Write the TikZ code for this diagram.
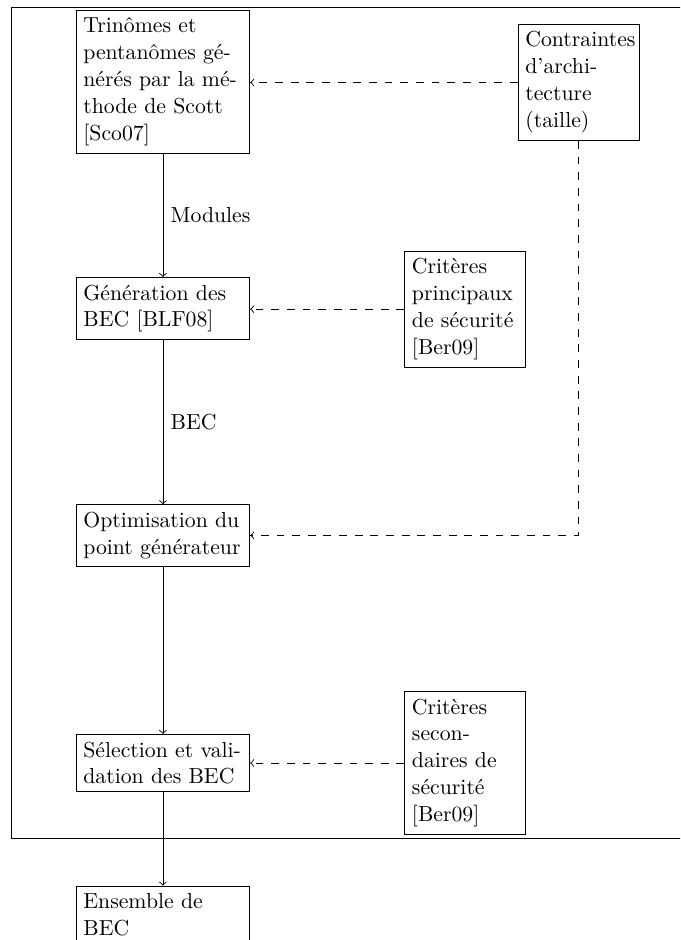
\documentclass[tikz,border=0pt]{standalone}
\usepackage{fontspec}
\begin{document}
\begin{tikzpicture}[x=0.46pt,y=-0.46pt,
  box/.style={draw, align=left, text width=#1, inner sep=3.33pt, anchor=north west, font=\fontsize{10}{12.4}\selectfont},
  box/.default=73.2pt,
  flow/.style={->},
  dep/.style={->, dash pattern=on 3.6pt off 3.6pt},
  lbl/.style={right, font=\fontsize{10}{12.4}\selectfont}]
\useasboundingbox (0,0) rectangle (680,940);
\clip (0,0) rectangle (680,940);
\draw (11,7) rectangle (700,838.3);
\node[box] (A) at (75.7,10) {Trinômes et\\ pentanômes gé-\\ nérés par la mé-\\ thode de Scott\\ {[Sco07]}};
\node[box=49pt] (C) at (517.7,24) {Contraintes\\ d'archi-\\ tecture\\ (taille)};
\node[box] (B) at (75.7,277) {Génération des\\ BEC [BLF08]};
\node[box=49pt] (P) at (404.3,250.7) {Critères\\ principaux\\ de sécurité\\ {[Ber09]}};
\node[box] (O) at (75.7,504.3) {Optimisation du\\ point générateur};
\node[box] (S) at (75.7,734) {Sélection et vali-\\ dation des BEC};
\node[box=49pt] (Q) at (404.3,691) {Critères\\ secon-\\ daires de\\ sécurité\\ {[Ber09]}};
\node[box] (E) at (75.7,885.7) {Ensemble de\\ BEC};
\draw[dep] (C.west) -- (C.west -| A.east);
\draw[dep] (P.west) -- (P.west -| B.east);
\draw[dep] (C.south) |- (O.east);
\draw[dep] (Q.west) -- (Q.west -| S.east);
\draw[flow] (A.south) -- node[lbl]{Modules} (B.north);
\draw[flow] (B.south) -- node[lbl]{BEC} (O.north);
\draw[flow] (O.south) -- (S.north);
\draw[flow] (S.south) -- (E.north);
\end{tikzpicture}
\end{document}
